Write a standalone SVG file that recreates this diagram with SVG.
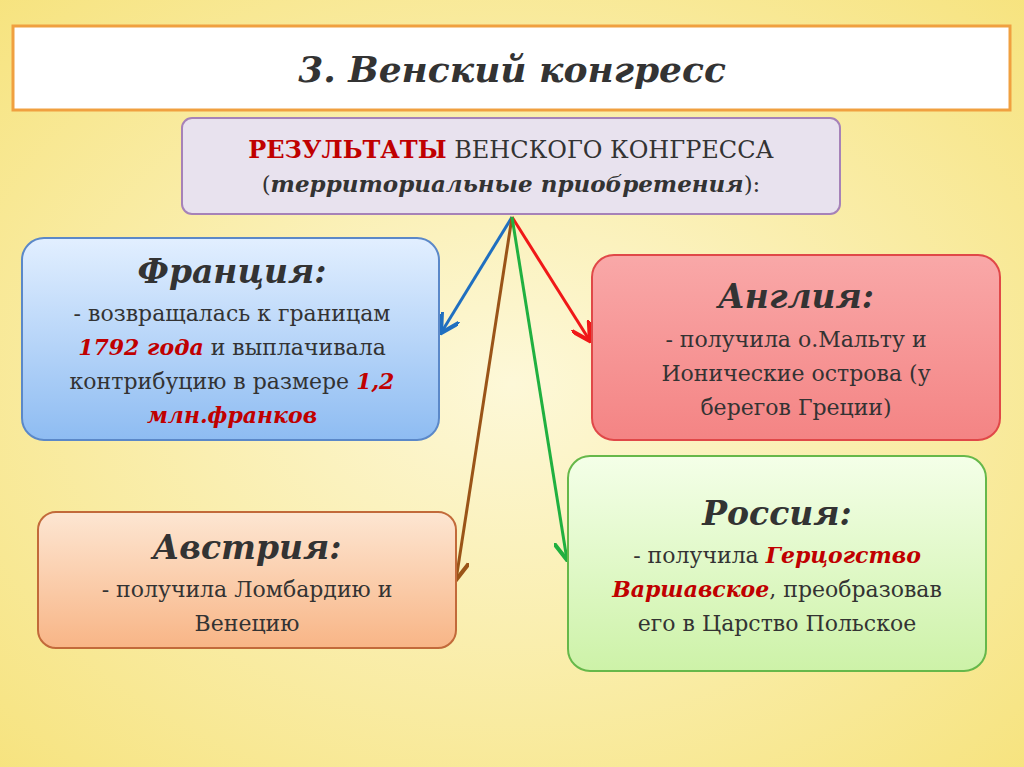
<svg xmlns="http://www.w3.org/2000/svg" width="1024" height="767" viewBox="0 0 1024 767">
<defs>
<radialGradient id="bg" cx="0.5" cy="0.5" r="0.75"><stop offset="0" stop-color="#fdf8d8"/><stop offset="1" stop-color="#f6e27a"/></radialGradient>
<linearGradient id="gF" x1="0" y1="0" x2="0" y2="1"><stop offset="0" stop-color="#e2efff"/><stop offset="1" stop-color="#8ebcf2"/></linearGradient>
<linearGradient id="gE" x1="0" y1="0" x2="0" y2="1"><stop offset="0" stop-color="#f9a8a8"/><stop offset="1" stop-color="#f48484"/></linearGradient>
<linearGradient id="gA" x1="0" y1="0" x2="0" y2="1"><stop offset="0" stop-color="#fde6d2"/><stop offset="1" stop-color="#f8b586"/></linearGradient>
<linearGradient id="gR" x1="0" y1="0" x2="0" y2="1"><stop offset="0" stop-color="#f4ffe8"/><stop offset="1" stop-color="#cdf2a8"/></linearGradient>
<marker id="mb" viewBox="0 0 10 10" refX="9" refY="5" markerWidth="7" markerHeight="7" orient="auto"><path d="M0,0 L9,5 L0,10" fill="none" stroke="#1f6fc0" stroke-width="2"/></marker>
<marker id="mr" viewBox="0 0 10 10" refX="9" refY="5" markerWidth="7" markerHeight="7" orient="auto"><path d="M0,0 L9,5 L0,10" fill="none" stroke="#f01818" stroke-width="2"/></marker>
<marker id="mw" viewBox="0 0 10 10" refX="9" refY="5" markerWidth="7" markerHeight="7" orient="auto"><path d="M0,0 L9,5 L0,10" fill="none" stroke="#9a5418" stroke-width="2"/></marker>
<marker id="mg" viewBox="0 0 10 10" refX="9" refY="5" markerWidth="7" markerHeight="7" orient="auto"><path d="M0,0 L9,5 L0,10" fill="none" stroke="#20b040" stroke-width="2"/></marker>
</defs>
<style>
text{font-family:"DejaVu Serif","Liberation Serif",serif;text-anchor:middle;fill:#333}
.h{font-size:33px;font-weight:bold;font-style:italic}
.b{font-size:22px}
.red{fill:#c00000;font-weight:bold;font-style:italic}
</style>
<rect width="1024" height="767" fill="url(#bg)"/>
<g id="title"><rect x="13" y="26" width="997" height="84" fill="#fff" stroke="#f0a040" stroke-width="3"/>
<text x="512" y="82" style="font-size:36px;font-weight:bold;font-style:italic" fill="#222">3. Венский конгресс</text></g>
<g id="center"><rect x="182" y="118" width="658" height="96" rx="10" fill="#e8e2ee" stroke="#a682b8" stroke-width="2"/>
<text x="511" y="158" style="font-size:24px"><tspan fill="#c00000" font-weight="bold">РЕЗУЛЬТАТЫ</tspan> ВЕНСКОГО КОНГРЕССА</text>
<text x="511" y="192" style="font-size:23px">(<tspan font-weight="bold" font-style="italic">территориальные приобретения</tspan>):</text></g>
<g id="connectors" stroke-width="3" fill="none">
<line x1="512" y1="217" x2="441" y2="333" stroke="#1f6fc0" marker-end="url(#mb)"/>
<line x1="512" y1="217" x2="590" y2="341" stroke="#f01818" marker-end="url(#mr)"/>
<line x1="512" y1="217" x2="456" y2="580" stroke="#9a5418" marker-end="url(#mw)"/>
<line x1="512" y1="217" x2="567" y2="560" stroke="#20b040" marker-end="url(#mg)"/>
</g>
<g id="france"><rect x="22" y="238" width="417" height="202" rx="22" fill="url(#gF)" stroke="#5b88c8" stroke-width="2"/>
<text class="h" x="232" y="283">Франция:</text>
<text class="b" x="232" y="321">- возвращалась к границам</text>
<text class="b" x="232" y="355"><tspan class="red">1792 года</tspan> и выплачивала</text>
<text class="b" x="232" y="389">контрибуцию в размере <tspan class="red">1,2</tspan></text>
<text class="b" x="232" y="423"><tspan class="red">млн.франков</tspan></text></g>
<g id="england"><rect x="592" y="255" width="408" height="185" rx="22" fill="url(#gE)" stroke="#e04848" stroke-width="2"/>
<text class="h" x="796" y="308">Англия:</text>
<text class="b" x="796" y="347">- получила о.Мальту и</text>
<text class="b" x="796" y="381">Ионические острова (у</text>
<text class="b" x="796" y="415">берегов Греции)</text></g>
<g id="austria"><rect x="38" y="512" width="418" height="136" rx="18" fill="url(#gA)" stroke="#c26a3a" stroke-width="2"/>
<text class="h" x="247" y="559">Австрия:</text>
<text class="b" x="247" y="597">- получила Ломбардию и</text>
<text class="b" x="247" y="631">Венецию</text></g>
<g id="russia"><rect x="568" y="456" width="418" height="215" rx="22" fill="url(#gR)" stroke="#66b84a" stroke-width="2"/>
<text class="h" x="777" y="525">Россия:</text>
<text class="b" x="777" y="563">- получила <tspan class="red">Герцогство</tspan></text>
<text class="b" x="777" y="597"><tspan class="red">Варшавское</tspan>, преобразовав</text>
<text class="b" x="777" y="631">его в Царство Польское</text></g>
</svg>
